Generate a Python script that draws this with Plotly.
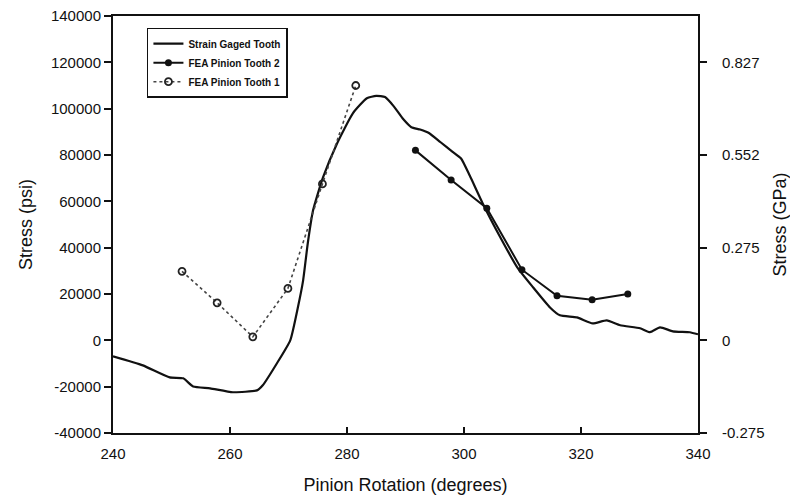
import plotly.graph_objects as go

# ---- data ----
strain_deg = [240.0, 245.1, 249.7, 252.0, 253.7, 256.6, 260.5, 264.6, 265.6, 268.0,
              270.3, 271.6, 272.5, 273.3, 274.2, 275.9, 278.3, 281.0, 283.4, 285.0,
              286.5, 288.0, 289.6, 291.0, 292.5, 294.0, 296.0, 298.0, 299.5, 301.0,
              303.2, 306.2, 309.1, 311.8, 314.7, 316.4, 319.3, 322.0, 324.4, 326.7,
              330.1, 331.8, 333.5, 335.7, 338.6, 340.0]
strain_psi = [-6900, -10800, -16000, -16400, -19900, -20700, -22400, -21600, -19400, -10000,
              0, 14200, 25900, 42000, 56100, 70300, 85000, 98000, 104500, 105500,
              105000, 101000, 95500, 92000, 91000, 89500, 85500, 81500, 78500, 71000,
              59100, 44500, 31500, 22900, 14200, 10800, 9900, 7300, 8600, 6500,
              5200, 3500, 5600, 3900, 3500, 2600]

tooth2_deg = [291.7, 297.8, 303.9, 309.9, 315.9, 321.9, 328.0]
tooth2_psi = [82000, 69200, 57000, 30500, 19200, 17500, 20000]

tooth1_deg = [251.8, 257.8, 263.9, 269.9, 275.8, 281.5]
tooth1_psi = [29800, 16200, 1500, 22400, 67500, 110000]

x_ticks = [240, 260, 280, 300, 320, 340]
x_tick_labels = ["240", "260", "280", "300", "320", "340"]
y_ticks = [-40000, -20000, 0, 20000, 40000, 60000, 80000, 100000, 120000, 140000]
y_tick_labels = ["-40000", "-20000", "0", "20000", "40000", "60000", "80000",
                 "100000", "120000", "140000"]
gpa_ticks = [-0.275, 0, 0.275, 0.552, 0.827]
gpa_tick_labels = ["-0.275", "0", "0.275", "0.552", "0.827"]

PSI_TO_GPA = 6.894757e-6
y_range = [-40000, 140000]

FONT = "Liberation Sans, Arial, sans-serif"

fig = go.Figure()
fig.add_trace(go.Scatter(
    x=strain_deg, y=strain_psi, mode="lines", name="Strain Gaged Tooth",
    line=dict(color="#111111", width=2.2, shape="spline", smoothing=0.5)))
fig.add_trace(go.Scatter(
    x=tooth2_deg, y=tooth2_psi, mode="lines+markers", name="FEA Pinion Tooth 2",
    line=dict(color="#111111", width=2),
    marker=dict(symbol="circle", size=7, color="#111111")))
fig.add_trace(go.Scatter(
    x=tooth1_deg, y=tooth1_psi, mode="lines+markers", name="FEA Pinion Tooth 1",
    line=dict(color="#444444", width=1.6, dash="dot"),
    marker=dict(symbol="circle-open", size=7, color="#222222", line=dict(width=1.8))))
# invisible trace to activate the right axis
fig.add_trace(go.Scatter(
    x=[x_ticks[0]], y=[0], yaxis="y2", mode="markers", showlegend=False,
    marker=dict(opacity=0), hoverinfo="skip"))

fig.update_layout(
    width=790, height=497,
    margin=dict(l=113, r=92, t=16, b=64),
    paper_bgcolor="white", plot_bgcolor="white",
    font=dict(family=FONT, color="#111111", size=15),
    showlegend=True,
    legend=dict(
        x=0.058, y=0.972, xanchor="left", yanchor="top",
        bgcolor="white", bordercolor="#111111", borderwidth=1.5,
        font=dict(size=10, family=FONT, weight="bold"),
        tracegroupgap=0, itemwidth=30),
    xaxis=dict(
        range=[240, 340], tickvals=x_ticks, ticktext=x_tick_labels,
        ticks="inside", ticklen=6, tickwidth=1.5, tickcolor="#111111",
        showline=True, linecolor="#111111", linewidth=2, mirror=True,
        showgrid=False, zeroline=False, automargin=False,
        tickfont=dict(size=15), ticklabelstandoff=6,
        title=dict(text="Pinion Rotation (degrees)", font=dict(size=18), standoff=17)),
    yaxis=dict(
        range=y_range, tickvals=y_ticks, ticktext=y_tick_labels,
        ticks="outside", ticklen=7, tickwidth=1.5, tickcolor="#111111",
        showline=True, linecolor="#111111", linewidth=2,
        showgrid=False, zeroline=False, automargin=False,
        tickfont=dict(size=15),
        title=dict(text="Stress (psi)", font=dict(size=18), standoff=14)),
    yaxis2=dict(
        overlaying="y", side="right",
        range=[y_range[0] * PSI_TO_GPA, y_range[1] * PSI_TO_GPA],
        tickvals=gpa_ticks, ticktext=gpa_tick_labels,
        ticks="outside", ticklen=7, tickwidth=1.5, tickcolor="#111111",
        showline=True, linecolor="#111111", linewidth=2,
        showgrid=False, zeroline=False, automargin=False,
        tickfont=dict(size=15), ticklabelstandoff=12,
        title=dict(text="Stress (GPa)", font=dict(size=18), standoff=14)),
)

fig.write_html("out.html")
